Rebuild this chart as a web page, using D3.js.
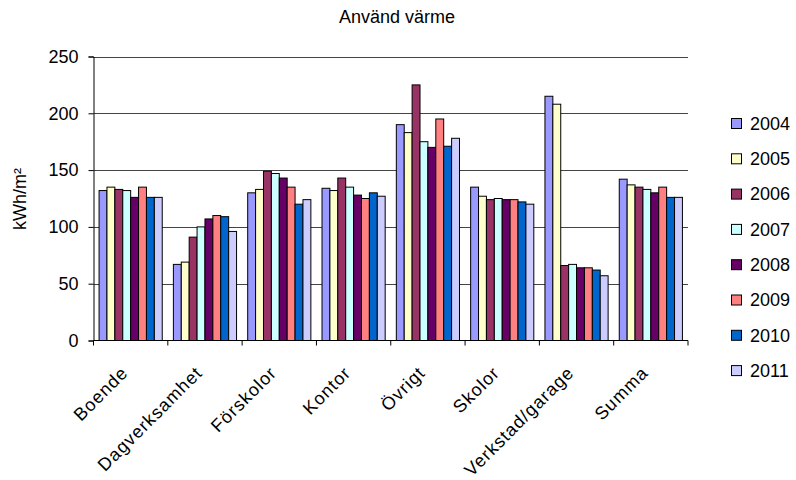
<!DOCTYPE html>
<html>
<head>
<meta charset="utf-8">
<script src="https://cdn.jsdelivr.net/npm/d3@7"></script>
<style>
  body { margin: 0; background: #fff; }
  svg { display: block; font-family: "Liberation Sans", Arial, sans-serif; }
</style>
</head>
<body>
<svg id="chart" width="796" height="480"></svg>
<script>
// Categories and yearly series (kWh/m²)
const categories = ["Boende", "Dagverksamhet", "Förskolor", "Kontor", "Övrigt", "Skolor", "Verkstad/garage", "Summa"];
const years = ["2004", "2005", "2006", "2007", "2008", "2009", "2010", "2011"];
const v2004 = [132, 67, 130, 134, 190, 135, 215, 142];
const v2005 = [135, 69, 133, 132, 183, 127, 208, 137];
const v2006 = [133, 91, 149, 143, 225, 124, 66, 135];
const v2007 = [132, 100, 147, 135, 175, 125, 67, 133];
const v2008 = [126, 107, 143, 128, 170, 124, 64, 130];
const v2009 = [135, 110, 135, 125, 195, 124, 64, 135];
const v2010 = [126, 109, 120, 130, 171, 122, 62, 126];
const v2011 = [126, 96, 124, 127, 178, 120, 57, 126];
const seriesValues = [v2004, v2005, v2006, v2007, v2008, v2009, v2010, v2011];
const colors = ["#9999FF", "#FFFFCC", "#993366", "#CCFFFF", "#660066", "#FF8080", "#0066CC", "#CCCCFF"];
const yTicks = [0, 50, 100, 150, 200, 250];

const svg = d3.select("#chart");
const margin = { left: 93.5, right: 796 - 688, top: 56.5, bottom: 480 - 340.5 };
const W = 796, H = 480;

const x0 = d3.scaleBand().domain(categories).range([margin.left, W - margin.right]).paddingInner(0.15).paddingOuter(0.075);
const x1 = d3.scaleBand().domain(years).range([0, x0.bandwidth()]);
const y = d3.scaleLinear().domain([0, 250]).range([H - margin.bottom, margin.top]);

// Horizontal gridlines
svg.append("g")
  .selectAll("line")
  .data(yTicks.filter(d => d > 0))
  .join("line")
  .attr("x1", margin.left).attr("x2", W - margin.right)
  .attr("y1", d => Math.round(y(d)) + 0.5).attr("y2", d => Math.round(y(d)) + 0.5)
  .attr("stroke", "#444").attr("stroke-width", 1);

// Bars
const groups = svg.append("g")
  .selectAll("g")
  .data(categories)
  .join("g")
  .attr("transform", d => `translate(${x0(d)},0)`);

groups.selectAll("rect")
  .data((c, ci) => years.map((yr, si) => ({ yr, si, v: seriesValues[si][ci] })))
  .join("rect")
  .attr("x", d => x1(d.yr))
  .attr("y", d => y(d.v))
  .attr("width", x1.bandwidth())
  .attr("height", d => y(0) - y(d.v))
  .attr("fill", d => colors[d.si])
  .attr("stroke", "#000")
  .attr("stroke-width", 1);

// Y axis
const yAxis = d3.axisLeft(y).tickValues(yTicks).tickSize(5).tickPadding(10);
const gy = svg.append("g").attr("transform", `translate(${margin.left},0)`).call(yAxis);
gy.select(".domain").attr("stroke", "#000");
gy.selectAll(".tick line").attr("stroke", "#000");
gy.selectAll("text").attr("font-size", 18).attr("fill", "#000").attr("font-family", "Liberation Sans, Arial, sans-serif");

// X axis: ticks between categories
const gx = svg.append("g").attr("transform", `translate(0,${y(0)})`);
gx.append("line").attr("x1", margin.left).attr("x2", W - margin.right).attr("stroke", "#000");
const boundaries = d3.range(categories.length + 1).map(i => margin.left + i * (W - margin.left - margin.right) / categories.length);
gx.selectAll("line.tk").data(boundaries).join("line").attr("class", "tk")
  .attr("x1", d => d).attr("x2", d => d).attr("y1", 0).attr("y2", 5).attr("stroke", "#000");

gx.selectAll("text").data(categories).join("text")
  .attr("transform", d => `translate(${x0(d) + x0.bandwidth() / 2 - 6},${29}) rotate(-45)`)
  .attr("text-anchor", "end")
  .attr("dy", "0.35em")
  .attr("font-size", 18)
  .attr("letter-spacing", 1)
  .attr("fill", "#000")
  .text(d => d);

// Title
svg.append("text").attr("x", 397).attr("y", 23).attr("text-anchor", "middle")
  .attr("font-size", 18).attr("fill", "#000").text("Använd värme");

// Y axis title
svg.append("text").attr("transform", "translate(26,199) rotate(-90)").attr("text-anchor", "middle")
  .attr("font-size", 18).attr("fill", "#000").text("kWh/m²");

// Legend
const legend = svg.append("g").selectAll("g").data(years).join("g")
  .attr("transform", (d, i) => `translate(731,${123.5 + i * 35.3})`);
legend.append("rect").attr("x", 0.5).attr("y", -5).attr("width", 10).attr("height", 10)
  .attr("fill", (d, i) => colors[i]).attr("stroke", "#000").attr("stroke-width", 1);
legend.append("text").attr("x", 19).attr("y", 0).attr("dy", "0.35em")
  .attr("font-size", 18).attr("fill", "#000").text(d => d);
</script>
</body>
</html>
